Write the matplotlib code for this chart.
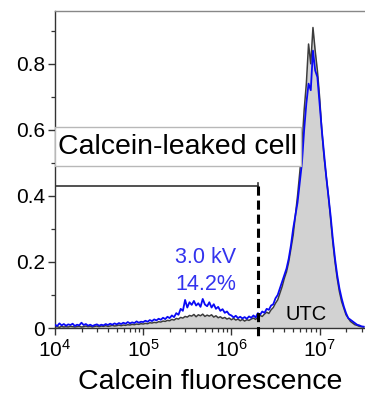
import numpy as np
import matplotlib
matplotlib.use("Agg")
from matplotlib import pyplot as plt
from matplotlib.patches import Rectangle
from matplotlib.ticker import LogLocator, FixedLocator, NullFormatter

plt.rcParams['font.family'] = ['Liberation Sans', 'DejaVu Sans']

# log10 of calcein fluorescence, one bin every 0.025 decade
log_x = np.round(np.arange(4.0, 7.5001, 0.025), 3)

# untreated control (gray, filled)
utc = [
    0.003, 0.004, 0.002, 0.005, 0.003, 0.004, 0.003, 0.005, 0.004, 0.003,
    0.004, 0.005, 0.003, 0.004, 0.006, 0.004, 0.005, 0.003, 0.005, 0.006,
    0.004, 0.006, 0.005, 0.007, 0.005, 0.006, 0.008, 0.006, 0.007, 0.009,
    0.007, 0.009, 0.008, 0.010, 0.009, 0.011, 0.010, 0.012, 0.011, 0.013,
    0.012, 0.014, 0.013, 0.016, 0.015, 0.017, 0.016, 0.019, 0.018, 0.021,
    0.020, 0.023, 0.022, 0.026, 0.024, 0.029, 0.027, 0.032, 0.030, 0.035,
    0.033, 0.038, 0.036, 0.041, 0.034, 0.040, 0.037, 0.042, 0.035, 0.039,
    0.036, 0.040, 0.033, 0.037, 0.031, 0.034, 0.029, 0.032, 0.027, 0.030,
    0.025, 0.029, 0.024, 0.027, 0.022, 0.026, 0.021, 0.025, 0.023, 0.027,
    0.030, 0.026, 0.033, 0.038, 0.035, 0.042, 0.048, 0.044, 0.055, 0.062,
    0.075, 0.085, 0.105, 0.125, 0.150, 0.170, 0.200, 0.240, 0.280, 0.340,
    0.400, 0.470, 0.550, 0.660, 0.740, 0.860, 0.800, 0.910, 0.840, 0.780,
    0.700, 0.600, 0.520, 0.460, 0.400, 0.330, 0.260, 0.200, 0.150, 0.110,
    0.080, 0.060, 0.040, 0.030, 0.020, 0.015, 0.010, 0.008, 0.005, 0.004,
    0.003,
]

# 3.0 kV treated sample (blue line)
kv3 = [
    0.010, 0.006, 0.014, 0.008, 0.012, 0.007, 0.011, 0.009, 0.013, 0.006,
    0.010, 0.008, 0.016, 0.009, 0.012, 0.007, 0.010, 0.006, 0.009, 0.011,
    0.007, 0.010, 0.008, 0.012, 0.009, 0.013, 0.010, 0.014, 0.011, 0.015,
    0.012, 0.016, 0.013, 0.018, 0.014, 0.017, 0.015, 0.020, 0.016, 0.019,
    0.018, 0.022, 0.019, 0.024, 0.021, 0.026, 0.023, 0.028, 0.025, 0.031,
    0.027, 0.034, 0.030, 0.038, 0.033, 0.045, 0.040, 0.058, 0.052, 0.085,
    0.062, 0.078, 0.070, 0.082, 0.068, 0.075, 0.064, 0.088, 0.071, 0.066,
    0.078, 0.062, 0.072, 0.058, 0.064, 0.052, 0.057, 0.046, 0.050, 0.041,
    0.038, 0.032, 0.037, 0.030, 0.034, 0.029, 0.033, 0.028, 0.035, 0.031,
    0.038, 0.032, 0.045, 0.040, 0.050, 0.046, 0.058, 0.055, 0.068, 0.072,
    0.090, 0.100, 0.120, 0.140, 0.160, 0.180, 0.210, 0.250, 0.300, 0.340,
    0.380, 0.440, 0.500, 0.600, 0.680, 0.740, 0.720, 0.840, 0.780, 0.760,
    0.680, 0.600, 0.530, 0.460, 0.400, 0.340, 0.270, 0.210, 0.160, 0.120,
    0.090, 0.065, 0.045, 0.030, 0.025, 0.020, 0.015, 0.010, 0.008, 0.005,
    0.004,
]

y_ticks = [0, 0.2, 0.4, 0.6, 0.8]
y_labels = ['0', '0.2', '0.4', '0.6', '0.8']
y_minor = [0.1, 0.3, 0.5, 0.7, 0.9]

gate_x = 2.0e6
gate_y = 0.43
x = 10 ** log_x

fig = plt.figure(figsize=(3.65, 4.0), dpi=100)
ax = fig.add_axes([0.1507, 0.18, 0.8493, 0.7925])

ax.fill_between(x, utc, 0, color='#d2d2d2', lw=0, zorder=1)
ax.plot(x, utc, color='#3c3c3c', lw=1.1, zorder=2)
ax.plot(x, kv3, color='#0a0af5', lw=1.3, zorder=3)

# gate
ax.plot([1e4, gate_x], [gate_y, gate_y], color='#333333', lw=1.2, zorder=4)
ax.plot([gate_x, gate_x], [gate_y - 0.02, gate_y + 0.01], color='#333333', lw=1.2, zorder=4)
ax.plot([gate_x, gate_x], [gate_y, -0.025], color='black', lw=2.2,
        ls=(0, (3, 1.6)), zorder=5, clip_on=False)

# gate label box
ax.add_patch(Rectangle((1e4, 0.49), 6.2e6 - 1e4, 0.12, facecolor='white',
                       edgecolor='#b8b8b8', lw=1.0, zorder=6))
ax.text(1.08e4, 0.548, 'Calcein-leaked cell', fontsize=20.5, ha='left',
        va='center', zorder=7)

ax.text(10 ** 5.706, 0.215, '3.0 kV', color='#3333ee', fontsize=15.5,
        ha='center', va='center', zorder=7)
ax.text(10 ** 5.706, 0.133, '14.2%', color='#3333ee', fontsize=15.5,
        ha='center', va='center', zorder=7)
ax.text(10 ** 6.847, 0.042, 'UTC', color='black', fontsize=14.5,
        ha='center', va='center', zorder=7)

ax.set_xscale('log')
ax.set_xlim(1e4, 10 ** 7.515)
ax.set_ylim(0, 0.96)
ax.xaxis.set_major_locator(LogLocator(base=10, numticks=10))
ax.xaxis.set_minor_locator(LogLocator(base=10, subs=np.arange(2, 10), numticks=10))
ax.xaxis.set_minor_formatter(NullFormatter())
ax.set_yticks(y_ticks)
ax.set_yticklabels(y_labels)
ax.yaxis.set_minor_locator(FixedLocator(y_minor))

ax.tick_params(axis='both', which='major', length=5, width=1.0,
               labelsize=15, color='#333333', pad=2)
ax.tick_params(axis='both', which='minor', length=3, width=0.9, color='#333333')
ax.tick_params(axis='x', which='major', pad=3)

ax.spines['right'].set_visible(False)
ax.spines['top'].set_color('#888888')
ax.spines['top'].set_linewidth(1.0)
ax.spines['left'].set_color('#333333')
ax.spines['left'].set_linewidth(1.0)
ax.spines['bottom'].set_color('#333333')
ax.spines['bottom'].set_linewidth(1.0)

ax.set_xlabel('Calcein fluorescence', fontsize=20.5, labelpad=6)

fig.savefig('out.png', dpi=100)
